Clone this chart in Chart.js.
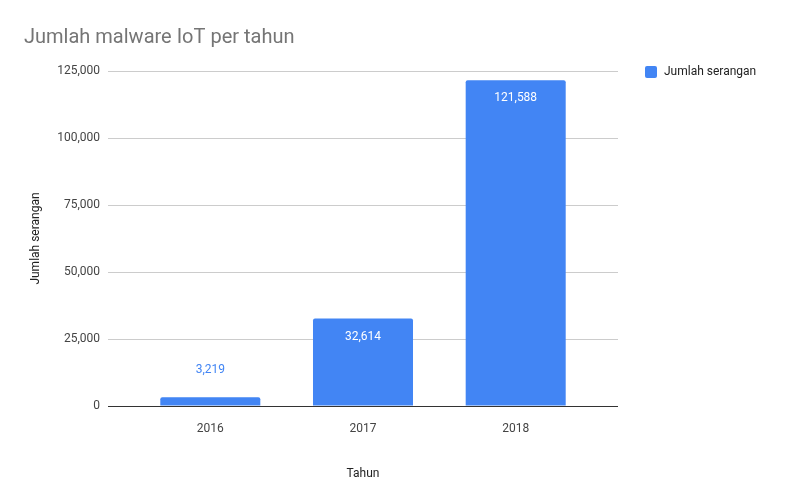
<!DOCTYPE html>
<html><head><meta charset="utf-8">
<script src="https://cdn.jsdelivr.net/npm/chart.js@4/dist/chart.umd.min.js"></script>
<style>html,body{margin:0;padding:0;background:#fff}#w{width:785px;height:485px}</style>
</head><body><div id="w"><canvas id="c"></canvas></div>
<script>
const categories = [2016, 2017, 2018];
const values = [3219, 32614, 121588];
const seriesName = "Jumlah serangan";
const chartTitle = "Jumlah malware IoT per tahun";
const xTitle = "Tahun";
const yTitle = "Jumlah serangan";
const barColor = "#4285f4";

const extras = {
  id: 'extras',
  afterDraw(chart) {
    const ctx = chart.ctx;
    ctx.save();
    ctx.fillStyle = '#757575';
    ctx.font = '20px Roboto';
    ctx.textBaseline = 'alphabetic';
    ctx.textAlign = 'left';
    ctx.fillText(chartTitle, 24, 43);
    ctx.fillStyle = barColor;
    ctx.beginPath(); ctx.roundRect(645, 66, 12, 12, 2); ctx.fill();
    ctx.fillStyle = '#222';
    ctx.font = '12px Roboto';
    ctx.textBaseline = 'middle';
    ctx.fillText(seriesName, 664, 72);
    const meta = chart.getDatasetMeta(0);
    const y = chart.scales.y;
    meta.data.forEach((bar, i) => {
      ctx.textAlign = 'center';
      const h = y.getPixelForValue(0) - bar.y;
      if (h < 30) {
        ctx.fillStyle = barColor;
        ctx.fillText(values[i].toLocaleString('en-US'), bar.x, bar.y - 27);
      } else {
        ctx.fillStyle = '#fff';
        ctx.fillText(values[i].toLocaleString('en-US'), bar.x, bar.y + 18);
      }
    });
    ctx.restore();
  }
};

new Chart(document.getElementById('c'), {
  type: 'bar',
  data: { datasets: [{ label: seriesName, data: categories.map((c, i) => ({ x: c, y: values[i] })), backgroundColor: barColor, borderRadius: 2, borderSkipped: 'start', categoryPercentage: 0.655, barPercentage: 1 }] },
  options: {
    responsive: true, maintainAspectRatio: false, animation: false,
    layout: { padding: { top: 71, right: 167, left: 25, bottom: 0 } },
    plugins: { legend: { display: false }, title: { display: false }, tooltip: { enabled: false } },
    scales: {
      x: {
        type: 'linear', offset: false,
        min: categories[0] - 0.67, max: categories[categories.length - 1] + 0.67,
        afterBuildTicks(s) { s.ticks = categories.map(v => ({ value: v })); },
        afterFit(s) { s.height = 79; },
        grid: { display: false },
        border: { display: false },
        ticks: { color: '#444', font: { family: 'Roboto', size: 12 }, padding: 8, callback: v => String(v) },
        title: { display: true, text: xTitle, color: '#222', font: { family: 'Roboto', size: 12 }, padding: { top: 4 } }
      },
      y: {
        min: 0, max: 125000,
        afterFit(s) { s.width = 83; },
        ticks: { stepSize: 25000, color: '#444', font: { family: 'Roboto', size: 12 }, padding: 8,
          callback: v => v.toLocaleString('en-US') },
        grid: { color: ctx => ctx.tick.value === 0 ? '#333' : '#ccc', drawTicks: false },
        border: { display: false },
        title: { display: true, text: yTitle, color: '#222', font: { family: 'Roboto', size: 12 }, padding: { bottom: 4 } }
      }
    }
  },
  plugins: [extras]
});
</script></body></html>
